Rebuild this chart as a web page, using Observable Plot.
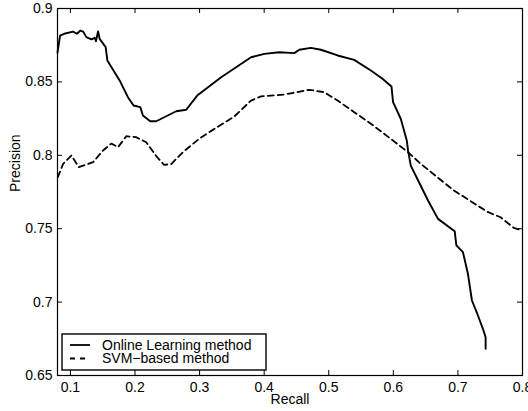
<!DOCTYPE html>
<html><head><meta charset="utf-8">
<script src="https://cdn.jsdelivr.net/npm/d3@7"></script>
<script src="https://cdn.jsdelivr.net/npm/@observablehq/plot@0.6"></script>
<style>body{margin:0;background:#fff} svg{display:block}</style>
</head><body><div id="chart"></div>
<script>
const onlineRecall = [0.080, 0.084, 0.092, 0.104, 0.110, 0.1155, 0.1196, 0.1247, 0.1325, 0.1376, 0.1395, 0.1428, 0.1453, 0.1546, 0.1572, 0.1762, 0.1890, 0.1978, 0.2082, 0.2123, 0.2236, 0.2329, 0.2638, 0.2793, 0.2963, 0.3334, 0.3797, 0.4003, 0.4234, 0.4466, 0.4544, 0.4724, 0.4879, 0.5137, 0.5394, 0.5652, 0.5832, 0.5971, 0.5996, 0.6115, 0.6208, 0.6228, 0.6270, 0.6409, 0.6537, 0.6692, 0.6950, 0.6976, 0.7078, 0.7155, 0.7217, 0.7310, 0.7387, 0.7429, 0.7429];
const onlinePrecision = [0.870, 0.8816, 0.8830, 0.8843, 0.8828, 0.8850, 0.8843, 0.8805, 0.8790, 0.8800, 0.8777, 0.8843, 0.8793, 0.8737, 0.8646, 0.8510, 0.8396, 0.8339, 0.8328, 0.8271, 0.8232, 0.8232, 0.8300, 0.8310, 0.8407, 0.8532, 0.8668, 0.8691, 0.8702, 0.8696, 0.8719, 0.8732, 0.8719, 0.8680, 0.8650, 0.8578, 0.8521, 0.8469, 0.8362, 0.8249, 0.8101, 0.8033, 0.7930, 0.7806, 0.7692, 0.7567, 0.7483, 0.7386, 0.7340, 0.7193, 0.7011, 0.6909, 0.6818, 0.6761, 0.6682];
const svmRecall = [0.0805, 0.0887, 0.1015, 0.1130, 0.1351, 0.1505, 0.1634, 0.1737, 0.1865, 0.2020, 0.2174, 0.2329, 0.2450, 0.2560, 0.2741, 0.3000, 0.3230, 0.3539, 0.3797, 0.3951, 0.4311, 0.4698, 0.4930, 0.5137, 0.5394, 0.5652, 0.5961, 0.6228, 0.6424, 0.6939, 0.7455, 0.7660, 0.7866, 0.7940];
const svmPrecision = [0.7851, 0.7942, 0.7999, 0.7919, 0.7953, 0.8033, 0.8080, 0.8055, 0.8130, 0.8123, 0.8089, 0.7995, 0.7935, 0.7940, 0.8021, 0.8115, 0.8180, 0.8265, 0.8373, 0.8401, 0.8414, 0.8446, 0.8430, 0.8373, 0.8294, 0.8215, 0.8112, 0.8021, 0.7942, 0.7760, 0.7615, 0.7578, 0.7505, 0.7495];
const xTicks = [0.1, 0.2, 0.3, 0.4, 0.5, 0.6, 0.7, 0.8];
const yTicks = [0.65, 0.7, 0.75, 0.8, 0.85, 0.9];
const seriesNames = ["Online Learning method", "SVM\u2212based method"];
const xLabel = "Recall";
const yLabel = "Precision";

const online = onlineRecall.map((r, i) => ({recall: r, precision: onlinePrecision[i]}));
const svm = svmRecall.map((r, i) => ({recall: r, precision: svmPrecision[i]}));

const FONT = "'Liberation Sans', Arial, Helvetica, sans-serif";

const chart = Plot.plot({
  width: 528, height: 411,
  marginLeft: 57, marginRight: 6, marginTop: 8, marginBottom: 36,
  style: {fontFamily: FONT, fontSize: "14px", background: "white", color: "black", overflow: "visible"},
  x: {domain: [0.08, 0.8]},
  y: {domain: [0.65, 0.9]},
  marks: [
    Plot.line(online, {x: "recall", y: "precision", stroke: "black", strokeWidth: 1.9}),
    Plot.line(svm, {x: "recall", y: "precision", stroke: "black", strokeWidth: 1.8, strokeDasharray: "6,4"}),
    Plot.axisX(xTicks, {tickSize: 0, tickPadding: 7, label: null, tickFormat: d => String(d), fontSize: 14}),
    Plot.axisY(yTicks, {tickSize: 0, tickPadding: 5, label: null, tickFormat: d => String(d), fontSize: 14}),
    Plot.tickX(xTicks, {x: d => d, insetTop: 362, stroke: "black"}),
    Plot.tickX(xTicks, {x: d => d, insetBottom: 362, stroke: "black"}),
    Plot.tickY(yTicks, {y: d => d, insetLeft: 460, stroke: "black"}),
    Plot.tickY(yTicks, {y: d => d, insetRight: 460, stroke: "black"}),
    Plot.frame({stroke: "black", strokeWidth: 1.2}),
    Plot.text([xLabel], {frameAnchor: "bottom", dy: 28, text: d => d, fontSize: 14}),
    Plot.text([yLabel], {frameAnchor: "left", dx: -42, rotate: -90, text: d => d, fontSize: 14})
  ]
});

// legend box
const svg = d3.select(chart);
const lg = svg.append("g").attr("font-family", FONT).attr("font-size", 14).attr("text-anchor", "start");
lg.append("rect").attr("x", 62).attr("y", 334).attr("width", 204).attr("height", 36)
  .attr("fill", "white").attr("stroke", "black").attr("stroke-width", 1.4);
const dashes = [null, "5,5"];
seriesNames.forEach((name, i) => {
  const cy = 345 + i * 13.5;
  lg.append("line").attr("x1", 70).attr("x2", 90).attr("y1", cy).attr("y2", cy)
    .attr("stroke", "black").attr("stroke-width", 1.8).attr("stroke-dasharray", dashes[i]);
  lg.append("text").attr("x", 102).attr("y", cy).attr("dy", "0.35em")
    .attr("text-anchor", "start").text(name);
});

document.getElementById("chart").appendChild(chart);
</script>
</body></html>
